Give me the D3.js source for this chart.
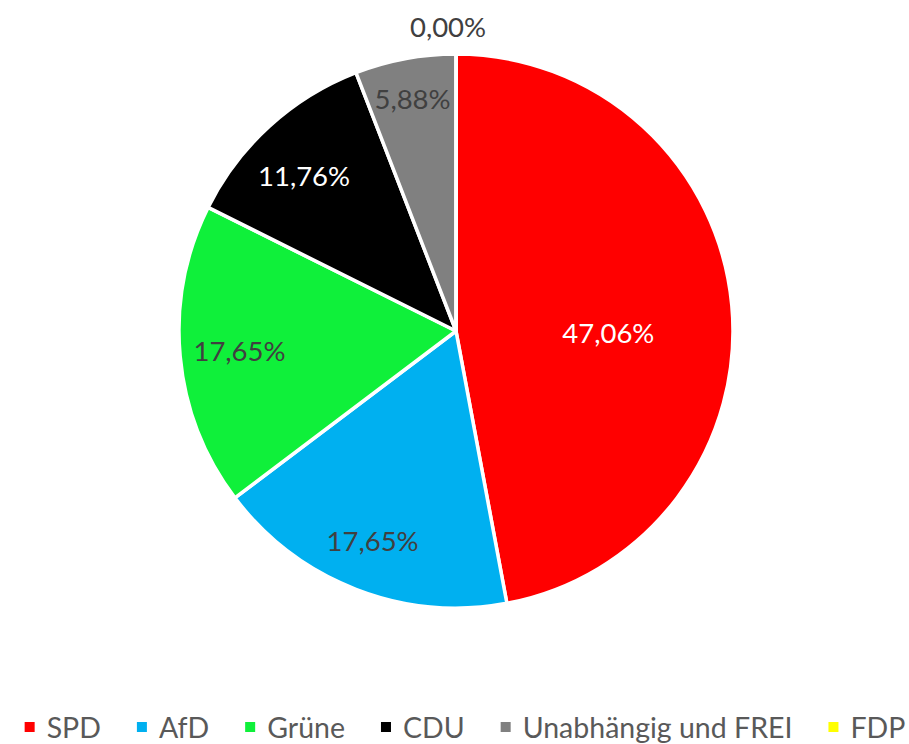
<!DOCTYPE html>
<html>
<head>
<meta charset="utf-8">
<script src="https://cdn.jsdelivr.net/npm/d3@7"></script>
<style>
  html, body { margin: 0; padding: 0; background: #ffffff; }
  svg { display: block; }
  text { font-family: Lato, "Open Sans", sans-serif; }
</style>
</head>
<body>
<svg id="chart" width="909" height="744"></svg>
<script>
// ---- data ----
const parties = ["SPD", "AfD", "Grüne", "CDU", "Unabhängig und FREI", "FDP"];
const shares  = [47.06, 17.65, 17.65, 11.76, 5.88, 0.00];
const labels  = ["47,06%", "17,65%", "17,65%", "11,76%", "5,88%", "0,00%"];
const colors  = ["#ff0000", "#00b0f0", "#0ff03a", "#000000", "#808080", "#ffff00"];

// ---- layout ----
const W = 909, H = 744;
const cx = 456, cy = 331, R = 277;
const labelRadiusFrac = [0.55, 0.815, 0.785, 0.785, 0.855, 1.10];
const labelAngleShiftDeg = [5.7, 0.5, 0, -2, 0, -1.5];
const labelColors = ["#ffffff", "#404040", "#404040", "#ffffff", "#404040", "#404040"];

const svg = d3.select("#chart");
const g = svg.append("g").attr("transform", `translate(${cx},${cy})`);

const pie = d3.pie().sort(null).value((d, i) => shares[i]);
const arcs = pie(parties);
const arc = d3.arc().innerRadius(0).outerRadius(R);

g.selectAll("path.slice")
  .data(arcs)
  .join("path")
  .attr("class", "slice")
  .attr("d", arc)
  .attr("fill", (d, i) => colors[i])
  .attr("stroke", "#ffffff")
  .attr("stroke-width", 3.5)
  .attr("stroke-linejoin", "round");

g.selectAll("text.lbl")
  .data(arcs)
  .join("text")
  .attr("class", "lbl")
  .attr("transform", (d, i) => {
    const a = (d.startAngle + d.endAngle) / 2 + labelAngleShiftDeg[i] * Math.PI / 180;
    const r = R * labelRadiusFrac[i];
    return `translate(${r * Math.sin(a)},${-r * Math.cos(a)})`;
  })
  .attr("text-anchor", "middle")
  .attr("dominant-baseline", "central")
  .attr("font-size", 27.5)
  .attr("fill", (d, i) => labelColors[i])
  .text((d, i) => labels[i]);

// ---- legend ----
const legend = svg.append("g");
const fs = 28.5, sq = 10, textOff = 22, gap = 36;
const items = legend.selectAll("g.item").data(parties).join("g").attr("class", "item");
items.append("rect")
  .attr("width", sq).attr("height", sq)
  .attr("y", -sq / 2)
  .attr("fill", (d, i) => colors[i]);
items.append("text")
  .attr("x", textOff)
  .attr("dominant-baseline", "central")
  .attr("font-size", fs)
  .attr("fill", "#595959")
  .text(d => d);
let x = 0;
const widths = [];
items.each(function () {
  const w = d3.select(this).select("text").node().getComputedTextLength();
  widths.push(w);
});
const total = widths.reduce((s, w) => s + textOff + w, 0) + gap * (widths.length - 1);
x = 465 - total / 2;
items.each(function (d, i) {
  d3.select(this).attr("transform", `translate(${x},727)`);
  x += textOff + widths[i] + gap;
});
</script>
</body>
</html>
